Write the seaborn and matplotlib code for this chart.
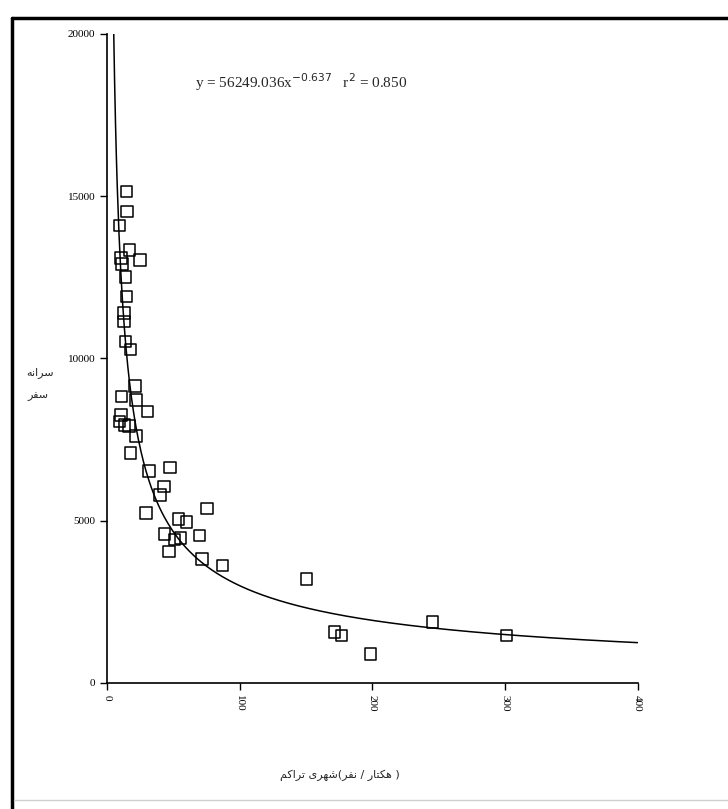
import numpy as np
import pandas as pd
import matplotlib
matplotlib.use("Agg")
import matplotlib.pyplot as plt
from matplotlib.lines import Line2D
import seaborn as sns

# urban density (person / hectare) and trips per capita
density = [14.5, 15.2, 9.4, 16.9, 25.0, 10.7, 11.3, 13.9, 14.5, 12.7,
           12.7, 13.9, 17.5, 21.2, 22.0, 11.1, 30.7, 10.7, 9.4, 13.2,
           16.4, 22.0, 17.5, 31.5, 47.6, 42.8, 40.1, 29.5, 75.2, 53.9,
           60.1, 43.3, 50.8, 55.4, 69.7, 46.6, 71.7, 87.2, 150.3, 171.4,
           176.6, 198.5, 245.2, 300.9]
trips = [15140, 14520, 14100, 13340, 13030, 13100, 12910, 12510, 11900, 11400,
         11130, 10520, 10280, 9150, 8720, 8820, 8360, 8260, 8050, 7950,
         7920, 7610, 7080, 6530, 6630, 6050, 5790, 5230, 5380, 5050,
         4950, 4590, 4410, 4470, 4540, 4050, 3820, 3610, 3200, 1570,
         1450, 890, 1880, 1450]

# power fit shown on the chart: y = a * x^b
fit_a = 56249.036
fit_b = -0.637

x_ticks = [0, 100, 200, 300, 400]
y_ticks = [0, 5000, 10000, 15000, 20000]

# Persian labels written as shaped glyphs in display order
ylabel_top = "\uFEEA\uFEE7\uFE8D\uFEAE\uFEB3"          # سرانه
ylabel_bottom = "\uFEAE\uFED4\uFEB3"                 # سفر
xlabel = ("\uFEE2\uFEDB\uFE8D\uFEAE\uFE97" + " " +    # تراکم
          "\uFEEF\uFEAE\uFEEC\uFEB7" + "(" +          # شهری
          "\uFEAE\uFED4\uFEE7" + " / " +              # نفر
          "\uFEAD\uFE8E\uFE98\uFEDC\uFEEB" + " )")     # هکتار

df = pd.DataFrame({"density": density, "trips": trips})

sns.set_style("ticks")
plt.rcParams["font.family"] = ["Liberation Serif", "DejaVu Serif"]

fig = plt.figure(figsize=(7.28, 8.09), dpi=100)
ax = fig.add_axes([0.147, 0.156, 0.729, 0.802])

sns.scatterplot(data=df, x="density", y="trips", ax=ax, marker="s", s=68,
                facecolor="none", edgecolor="black", linewidth=1.1, zorder=3)

x_start = (20000 / fit_a) ** (1 / fit_b)
xs = np.linspace(x_start, 400, 600)
sns.lineplot(x=xs, y=fit_a * xs ** fit_b, ax=ax, color="black", linewidth=1.1,
             zorder=2)

ax.set_xlim(0, 400)
ax.set_ylim(0, 20000)
ax.set_xticks(x_ticks)
ax.set_yticks(y_ticks)
ax.set_xticklabels([str(t) for t in x_ticks], rotation=-90, fontsize=8)
ax.set_yticklabels([str(t) for t in y_ticks], fontsize=8)
ax.tick_params(direction="out", length=5, width=1, colors="black")
for side in ["left", "bottom"]:
    ax.spines[side].set_linewidth(1.2)
    ax.spines[side].set_color("black")
sns.despine(ax=ax)
ax.set_xlabel("")
ax.set_ylabel("")
ax.margins(0)

ax.text(0.165, 0.925, r"y = 56249.036x$^{-0.637}$   r$^2$ = 0.850",
        transform=ax.transAxes, fontsize=11, ha="left", va="center")

fig.text(40 / 728, 1 - 373 / 809, ylabel_top, family=["DejaVu Sans"],
         fontsize=8, ha="center", va="center")
fig.text(38 / 728, 1 - 396 / 809, ylabel_bottom, family=["DejaVu Sans"],
         fontsize=8, ha="center", va="center")
fig.text(340 / 728, 1 - 775 / 809, xlabel, family=["DejaVu Sans"],
         fontsize=8, ha="center", va="center")

# page frame around the chart
fig.add_artist(Line2D([12 / 728, 1.0], [1 - 18 / 809, 1 - 18 / 809],
                      transform=fig.transFigure, color="black", linewidth=2.5))
fig.add_artist(Line2D([12 / 728, 12 / 728], [0.0, 1 - 18 / 809],
                      transform=fig.transFigure, color="black", linewidth=2.5))
fig.add_artist(Line2D([14 / 728, 1.0], [1 - 800 / 809, 1 - 800 / 809],
                      transform=fig.transFigure, color="#cfcfcf", linewidth=1))

fig.savefig("out.png", dpi=100)
